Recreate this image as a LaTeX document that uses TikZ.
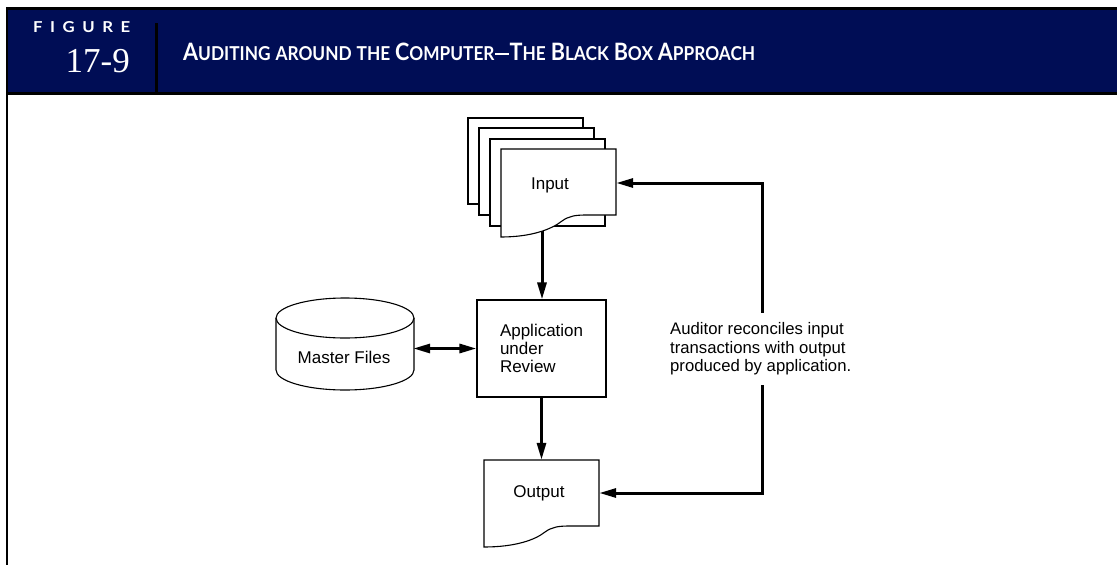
\documentclass[tikz,border=0pt]{standalone}
\usepackage{fontspec}
\setmainfont{Liberation Sans}
\newfontfamily\serifnum{Liberation Serif}
\newfontfamily\headsans{Lato}
\usetikzlibrary{arrows.meta}
\definecolor{navy}{RGB}{0,13,85}
\newcommand\SCw[2]{{\fontsize{20}{20}\selectfont #1}{\fontsize{16}{16}\selectfont #2}}
\newcommand\wsp{\hspace{4.5pt}}
\tikzset{
  shapeline/.style={draw=black, line width=1.1pt, fill=white},
  arr/.style={draw=black, line width=3pt, -{Triangle[length=17pt,width=9pt]}},
  dblarr/.style={draw=black, line width=3pt, {Triangle[length=17pt,width=9pt]}-{Triangle[length=17pt,width=9pt]}},
  lbl/.style={font=\fontsize{17}{18}\selectfont, inner sep=0pt},
  ghost/.style={inner sep=0pt, draw=none},
}
\begin{document}
\begin{tikzpicture}[x=1pt,y=-1pt]
\useasboundingbox (0,0) rectangle (1117,565);
% header
\fill[navy] (7,9) rectangle (1117,92);
\fill[black] (6,7) rectangle (1117,9.5);
\fill[black] (6,92) rectangle (1117,94.5);
\fill[black] (5.5,7) rectangle (7.5,565);
\fill[black] (155,23) rectangle (157.5,92);
\node[anchor=south west, inner sep=0pt, text=white] (figlbl) at (33,33)
  {\resizebox{97pt}{11pt}{\headsans\bfseries F\hspace{0.45em}I\hspace{0.45em}G\hspace{0.45em}U\hspace{0.45em}R\hspace{0.45em}E}};
\node[anchor=base east, inner sep=0pt, text=white, font=\serifnum\fontsize{35}{35}\selectfont] (fignum) at (130,72) {17-9};
\node[anchor=south west, inner sep=0pt, text=white] (title) at (183,61)
  {\resizebox{572pt}{17.5pt}{\headsans\bfseries \SCw{A}{UDITING}\wsp\SCw{}{AROUND}\wsp\SCw{}{THE}\wsp\SCw{C}{OMPUTER}\hspace{0.5pt}\rule[4.6pt]{13pt}{1.7pt}\hspace{0.5pt}\SCw{T}{HE}\wsp\SCw{B}{LACK}\wsp\SCw{B}{OX}\wsp\SCw{A}{PPROACH}}};

% stacked input sheets
\draw[shapeline] (468,118) rectangle (583,204);
\draw[shapeline] (479,128) rectangle (594,215);
\draw[shapeline] (490,139) rectangle (605,226);
\draw[shapeline] (501,149) -- (616,149) -- (616,215) -- (587,215)
  .. controls (575,215) and (569,216) .. (562,221)
  .. controls (552,229) and (532,237) .. (501,237) -- cycle;
\node[ghost, minimum width=115pt, minimum height=68pt] (input) at (558.5,183) {};
\node[lbl] (inputlbl) at (550,185) {Input};
\coordinate (inbot) at (542,231);

% application box
\node[shapeline, lbl, minimum width=129pt, minimum height=97pt, text width=83pt, align=left] (app) at (541.5,348.5)
  {Application\\under\\Review};

% master files cylinder
\draw[shapeline] (276,318) -- (276,370) arc[start angle=180, end angle=0, x radius=69, y radius=20] -- (414,318);
\draw[shapeline] (345,318) ellipse[x radius=69, y radius=20];
\node[lbl, minimum width=138pt] (mf) at (344,357) {Master Files};

% output document
\draw[shapeline] (484,460) -- (599,460) -- (599,526) -- (570,526)
  .. controls (558,526) and (552,527) .. (545,532)
  .. controls (535,540) and (515,547) .. (484,547) -- cycle;
\node[lbl, minimum width=115pt, minimum height=66pt] (out) at (541.5,493) {};
\node[lbl] (outlbl) at (539,493) {Output};

% auditor note
\node[anchor=west, align=left, font=\fontsize{16.7}{18.5}\selectfont, inner xsep=4pt, inner ysep=10pt] (aud) at (666,349)
  {Auditor reconciles input\\transactions with output\\produced by application.};
\coordinate (lx) at (762,0);

% connectors
\draw[arr] (inbot) -- (app.north -| inbot);
\draw[arr] (app.south) -- (out.north);
\draw[dblarr] (mf.east |- app.west) -- (app.west);
\draw[arr] (aud.north -| lx) |- (input.east);
\draw[arr] (aud.south -| lx) |- (out.east);
\end{tikzpicture}
\end{document}
